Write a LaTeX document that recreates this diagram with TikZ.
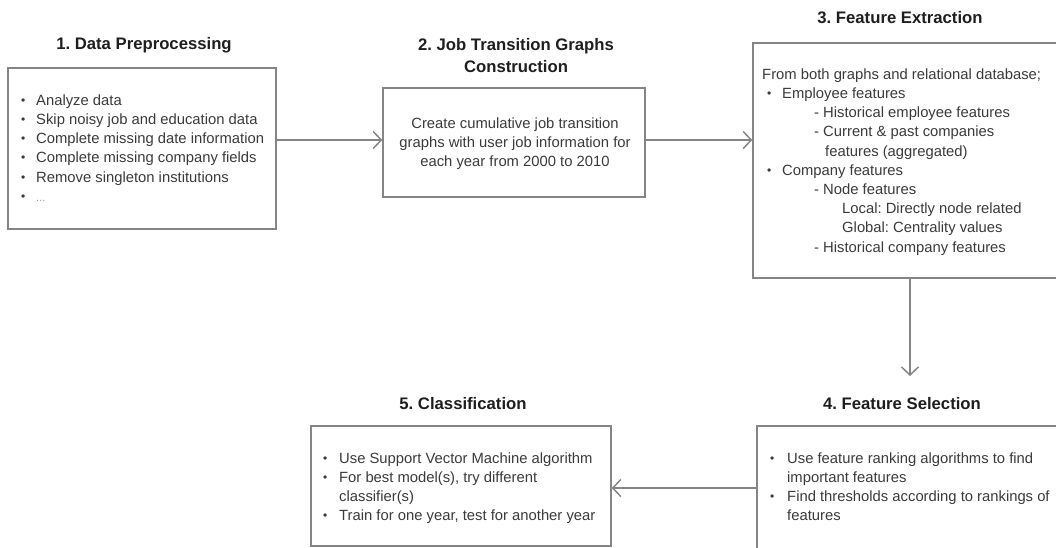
\documentclass[tikz,border=0pt]{standalone}
\usepackage{fontspec}
\setmainfont{Liberation Sans}
\usetikzlibrary{arrows.meta}
\frenchspacing
\definecolor{bordergray}{HTML}{858585}
\definecolor{bodytext}{HTML}{3A3A3A}
\definecolor{titletext}{HTML}{1E1E1E}
\definecolor{dotgray}{HTML}{9A9A9A}
\newcommand\bodyfont{\fontsize{14.8}{19.2}\selectfont}
\newcommand\ttlfont{\fontsize{16.7}{22}\selectfont\bfseries}
\newcommand\mybul{{\fontsize{12}{12}\selectfont\raisebox{1pt}{•}}}
\newcommand\bitem[2]{\hspace*{#1pt}\makebox[#2pt][l]{\mybul}}
\tikzset{
  boxnode/.style={draw=bordergray, line width=1.5pt, inner sep=0pt},
  bodynode/.style={anchor=north west, inner sep=0pt, align=left, font=\bodyfont, text=bodytext},
  titlenode/.style={anchor=base, inner sep=0pt, align=center, font=\ttlfont, text=titletext},
  arr/.style={draw=bordergray, line width=1.5pt, -{Straight Barb[length=8pt,width=17pt,line width=1.5pt]}}
}
\begin{document}
\begin{tikzpicture}[x=1pt,y=-1pt]
\useasboundingbox (0,0) rectangle (1056,547);
\clip (0,0) rectangle (1056,547);

% boxes
\node[boxnode, minimum width=268pt, minimum height=161pt] (b1) at (142,148.5) {};
\node[boxnode, minimum width=262pt, minimum height=109pt] (b2) at (514,142.5) {};
\node[boxnode, minimum width=317pt, minimum height=235pt] (b3) at (911.5,160.5) {};
\node[boxnode, minimum width=313pt, minimum height=134pt] (b4) at (913.5,493) {};
\node[boxnode, minimum width=300pt, minimum height=120pt] (b5) at (461,486) {};

% titles
\node[titlenode] (t1) at (144,49) {1. Data Preprocessing};
\node[titlenode, anchor=north] (t2) at (516,34.6) {\strut 2. Job Transition Graphs\\Construction};
\node[titlenode] (t3) at (900,23) {3. Feature Extraction};
\node[titlenode] (t4) at (902,409) {4. Feature Selection};
\node[titlenode] (t5) at (463,409) {5. Classification};

% texts
\node[bodynode] (x1) at (21,91.6) {\strut\bitem{0}{15}Analyze data\\
\bitem{0}{15}Skip noisy job and education data\\
\bitem{0}{15}Complete missing date information\\
\bitem{0}{15}Complete missing company fields\\
\bitem{0}{15}Remove singleton institutions\\
\bitem{0}{15}{\color{dotgray}\fontsize{11}{11}\selectfont ...}};

\node[bodynode, anchor=north, align=center] (x2) at (515,114.6) {\strut Create cumulative job transition\\
graphs with user job information for\\
each year from 2000 to 2010};

\node[bodynode] (x3) at (762,65.6) {\strut From both graphs and relational database;\\
\bitem{5}{15}Employee features\\
\hspace*{52pt}- Historical employee features\\
\hspace*{52pt}- Current \& past companies\\
\hspace*{63pt}features (aggregated)\\
\bitem{5}{15}Company features\\
\hspace*{52pt}- Node features\\
\hspace*{80pt}Local: Directly node related\\
\hspace*{80pt}Global: Centrality values\\
\hspace*{52pt}- Historical company features};

\node[bodynode] (x4) at (770,449.6) {\strut\bitem{0}{17}Use feature ranking algorithms to find\\
\hspace*{17pt}important features\\
\bitem{0}{17}Find thresholds according to rankings of\\
\hspace*{17pt}features};

\node[bodynode] (x5) at (323,449.6) {\strut\bitem{0}{16}Use Support Vector Machine algorithm\\
\bitem{0}{16}For best model(s), try different\\
\hspace*{16pt}classifier(s)\\
\bitem{0}{16}Train for one year, test for another year};

% connectors
\coordinate (e3) at (910,376);
\draw[arr] ([yshift=8.5pt]b1.east) -- ([yshift=8.5pt]b1.east -| b2.west);
\draw[arr] ([yshift=2.5pt]b2.east) -- ([yshift=2.5pt]b2.east -| b3.west);
\draw[arr] (b3.south -| e3) -- (e3);
\draw[arr] ([yshift=5pt]b4.west) -- ([yshift=5pt]b4.west -| b5.east);
\end{tikzpicture}
\end{document}
